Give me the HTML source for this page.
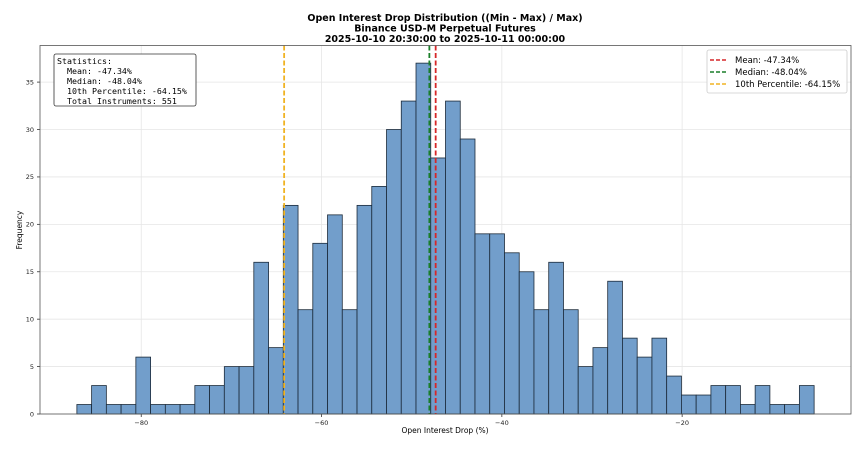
<!DOCTYPE html>
<html><head><meta charset="utf-8"><style>
body{margin:0;background:#fff;}
svg{display:block;font-family:"DejaVu Sans","Liberation Sans",sans-serif;}
</style></head><body>
<svg id="chart" width="860" height="449">
<text x="445" y="21" text-anchor="middle" font-size="9.5" font-weight="bold">Open Interest Drop Distribution ((Min - Max) / Max)</text>
<text x="445" y="31.5" text-anchor="middle" font-size="9.5" font-weight="bold">Binance USD-M Perpetual Futures</text>
<text x="445" y="42" text-anchor="middle" font-size="9.5" font-weight="bold">2025-10-10 20:30:00 to 2025-10-11 00:00:00</text>
<text x="22" y="230" text-anchor="middle" font-size="7.5" transform="rotate(-90 22 230)">Frequency</text>
<text x="445" y="433" text-anchor="middle" font-size="7.5">Open Interest Drop (%)</text>
<g id="grid"></g><g id="bars"></g><g id="lines"></g><g id="axes"></g>
<rect x="40" y="45.5" width="811" height="368.5" fill="none" stroke="#555" stroke-width="0.8"/>
<g>
<rect x="54" y="54" width="142" height="52" rx="2" fill="#fff" stroke="#333" stroke-width="0.8"/>
<text font-family="'DejaVu Sans Mono','Liberation Mono',monospace" font-size="8.3" fill="#000" xml:space="preserve">
<tspan x="57" y="64">Statistics:</tspan>
<tspan x="57" y="74" xml:space="preserve">  Mean: -47.34%</tspan>
<tspan x="57" y="84" xml:space="preserve">  Median: -48.04%</tspan>
<tspan x="57" y="94" xml:space="preserve">  10th Percentile: -64.15%</tspan>
<tspan x="57" y="104" xml:space="preserve">  Total Instruments: 551</tspan>
</text></g>
<g>
<rect x="707" y="50" width="140" height="43" rx="2" fill="#fff" fill-opacity="0.85" stroke="#ccc" stroke-width="0.8"/>
<line x1="710" y1="60" x2="728" y2="60" stroke="#d62728" stroke-width="1.5" stroke-dasharray="4,2"/>
<text x="735" y="63" font-size="8.5">Mean: -47.34%</text>
<line x1="710" y1="72" x2="728" y2="72" stroke="#1a7f2a" stroke-width="1.5" stroke-dasharray="4,2"/>
<text x="735" y="75" font-size="8.5">Median: -48.04%</text>
<line x1="710" y1="84" x2="728" y2="84" stroke="#f0b323" stroke-width="1.5" stroke-dasharray="4,2"/>
<text x="735" y="87" font-size="8.5">10th Percentile: -64.15%</text>
</g>
</svg>
<script>
const counts=[1,3,1,1,6,1,1,1,3,3,5,5,16,7,22,11,18,21,11,22,24,30,33,37,27,33,29,19,19,17,15,11,16,11,5,7,14,8,6,8,4,2,2,3,3,1,3,1,1,3];
const binStart=-87.14;
const binEnd=-5.36;
const xTicks=[-80,-60,-40,-20];
const yTicks=[0,5,10,15,20,25,30,35];
const refValues=[-47.34,-48.04,-64.15];
const refNames=['mean-line','median-line','p10-line'];
const refColors=['#d62728','#1a7f2a','#f0b323'];
const NS='http://www.w3.org/2000/svg';
const L=40,R=851,T=45.5,B=414,xmin=-91.23,xmax=-1.27,ymax=38.86;
const X=v=>L+(v-xmin)/(xmax-xmin)*(R-L);
const Y=v=>B-v/ymax*(B-T);
function mk(tag,attrs,parent){const e=document.createElementNS(NS,tag);for(const k in attrs)e.setAttribute(k,attrs[k]);document.getElementById(parent).appendChild(e);return e;}
xTicks.forEach(t=>{
 const g=mk('line',{x1:X(t),x2:X(t),y1:T,y2:B,stroke:'#e6e6e6','stroke-width':0.8},'grid');
 
 
 mk('line',{x1:X(t),x2:X(t),y1:B,y2:B+3,stroke:'#333','stroke-width':0.8},'axes');
 const tx=mk('text',{x:X(t),y:B+11,'text-anchor':'middle','font-size':6.5,fill:'#222'},'axes');
 tx.textContent='\u2212'+Math.abs(t);
 
 
});
yTicks.forEach(t=>{
 const g=mk('line',{x1:L,x2:R,y1:Y(t),y2:Y(t),stroke:'#e6e6e6','stroke-width':0.8},'grid');
 
 
 mk('line',{x1:L-3,x2:L,y1:Y(t),y2:Y(t),stroke:'#333','stroke-width':0.8},'axes');
 const tx=mk('text',{x:L-6,y:Y(t)+2.3,'text-anchor':'end','font-size':6.5,fill:'#222'},'axes');
 tx.textContent=t;
 
 
});
const bw=(binEnd-binStart)/counts.length;
counts.forEach((c,i)=>{
 const x0=X(binStart+i*bw),x1=X(binStart+(i+1)*bw);
 const r=mk('rect',{x:x0,y:Y(c),width:x1-x0,height:B-Y(c),fill:'#729ecb',stroke:'#1b2a3a','stroke-width':0.8},'bars');
 
 
});
refValues.forEach((v,i)=>{
 const l=mk('line',{x1:X(v),x2:X(v),y1:T,y2:B,stroke:refColors[i],'stroke-width':1.8,'stroke-dasharray':'5,2.5'},'lines');
 
 
});
</script>
</body></html>
